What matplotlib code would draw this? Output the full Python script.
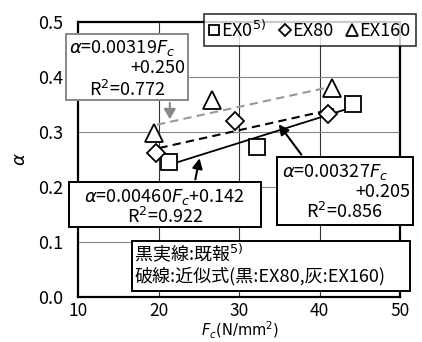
import matplotlib
matplotlib.use("Agg")
import matplotlib.pyplot as plt
from matplotlib.patches import Rectangle
import numpy as np

plt.rcParams['font.family'] = ['Noto Sans CJK JP', 'DejaVu Sans']
plt.rcParams['mathtext.fontset'] = 'dejavusans'

# data
ex0_x = [21.3, 32.2, 44.2]
ex0_y = [0.246, 0.273, 0.351]
ex80_x = [19.7, 29.5, 41.1]
ex80_y = [0.261, 0.319, 0.333]
ex160_x = [19.4, 26.6, 41.5]
ex160_y = [0.298, 0.358, 0.380]

# fits: (slope, intercept, x range)
fit_prev = (0.00460, 0.142, 21.3, 44.2)
fit_ex80 = (0.00327, 0.205, 20.1, 41.8)
fit_ex160 = (0.00319, 0.250, 19.8, 41.3)

xticks = [10, 20, 30, 40, 50]
yticks = [0.0, 0.1, 0.2, 0.3, 0.4, 0.5]

fs = 13

fig = plt.figure(figsize=(4.22, 3.42), dpi=100)
ax = fig.add_axes([0.185, 0.1325, 0.763, 0.803])
ax.set_xlim(10, 50)
ax.set_ylim(0, 0.5)
ax.set_xticks(xticks)
ax.set_yticks(yticks)
ax.set_xticklabels([str(v) for v in xticks], fontsize=12.5)
ax.set_yticklabels(["%.1f" % v for v in yticks], fontsize=fs)
ax.tick_params(axis='y', length=0, pad=11)
ax.tick_params(axis='x', length=0, pad=4)
for s in ax.spines.values():
    s.set_linewidth(1.6)
for xv in xticks[1:-1]:
    ax.axvline(xv, color='#333333', lw=0.8, zorder=0)
for yv in yticks[1:-1]:
    ax.axhline(yv, color='#888888', lw=0.8, zorder=0)

def fline(f, **kw):
    a, b, x0, x1 = f
    xs = np.array([x0, x1])
    ax.plot(xs, a * xs + b, **kw)

fline(fit_ex160, color='#999999', lw=1.5, ls=(0, (4, 2.5)), zorder=2)
fline(fit_ex80, color='black', lw=1.5, ls=(0, (4, 2.5)), zorder=2)
fline(fit_prev, color='black', lw=1.3, zorder=2)

mk = dict(ls='none', markerfacecolor='white', markeredgecolor='black',
          markeredgewidth=1.3, zorder=3)
ax.plot(ex0_x, ex0_y, marker='s', ms=11.5, label='EX0$^{5)}$', **mk)
ax.plot(ex80_x, ex80_y, marker='D', ms=9, label='EX80', **mk)
ax.plot(ex160_x, ex160_y, marker='^', ms=13, label='EX160', **mk)

leg = ax.legend(loc='upper right', bbox_to_anchor=(1.05, 1.03), borderaxespad=0,
                ncol=3, fontsize=fs, frameon=True, fancybox=False,
                handlelength=0.5, handletextpad=0.15, columnspacing=0.8,
                markerscale=0.65, borderpad=0.3)
leg.get_frame().set_edgecolor('black')
leg.get_frame().set_linewidth(1.2)
leg.set_zorder(6)

def box(x0, y0, x1, y1, ec='black'):
    r = Rectangle((x0, y0), x1 - x0, y1 - y0, facecolor='white', edgecolor=ec,
                  lw=1.4, clip_on=False, zorder=5)
    ax.add_patch(r)

# box 1 (grey)
box(8.5, 0.358, 23.66, 0.478, ec='#888888')
ax.text(8.9, 0.453, r'$\alpha$=0.00319$F_c$', fontsize=fs, va='center', ha='left', zorder=6)
ax.text(23.3, 0.4166, '+0.250', fontsize=fs, va='center', ha='right', zorder=6)
ax.text(16.1, 0.3766, 'R$^2$=0.772', fontsize=fs, va='center', ha='center', zorder=6)
ax.annotate('', xy=(21.4, 0.318), xytext=(21.4, 0.358),
            arrowprops=dict(arrowstyle='-|>,head_width=0.35,head_length=0.6',
                            color='#888888', lw=1.5), zorder=5)

# box 2
box(8.88, 0.127, 32.73, 0.2086)
ax.text(20.8, 0.1816, r'$\alpha$=0.00460$F_c$+0.142', fontsize=fs, va='center', ha='center', zorder=6)
ax.text(20.8, 0.1457, 'R$^2$=0.922', fontsize=fs, va='center', ha='center', zorder=6)
ax.annotate('', xy=(25.16, 0.257), xytext=(24.5, 0.2086),
            arrowprops=dict(arrowstyle='-|>,head_width=0.3,head_length=0.6',
                            color='black', lw=1.5), zorder=5)

# box 3
box(34.72, 0.1306, 51.61, 0.2545)
ax.text(35.3, 0.2277, r'$\alpha$=0.00327$F_c$', fontsize=fs, va='center', ha='left', zorder=6)
ax.text(51.3, 0.191, '+0.205', fontsize=fs, va='center', ha='right', zorder=6)
ax.text(43.1, 0.1548, 'R$^2$=0.856', fontsize=fs, va='center', ha='center', zorder=6)
ax.annotate('', xy=(34.72, 0.318), xytext=(37.95, 0.2545),
            arrowprops=dict(arrowstyle='-|>,head_width=0.3,head_length=0.6',
                            color='black', lw=1.5), zorder=5)

# box 4
box(16.7, 0.0104, 51.24, 0.1015)
ax.text(17.0, 0.0796, '黒実線:既報$^{5)}$', fontsize=fs, va='center', ha='left', zorder=6)
ax.text(17.0, 0.0364, '破線:近似式(黒:EX80,灰:EX160)', fontsize=fs, va='center', ha='left', zorder=6)

fig.text(0.568, 0.003, r'$F_c$(N/mm$^2$)', fontsize=10.5, ha='center', va='bottom',
         family='DejaVu Sans')
ax.set_ylabel(r'$\alpha$', fontsize=fs, labelpad=6)

fig.savefig('out.png', dpi=100)
